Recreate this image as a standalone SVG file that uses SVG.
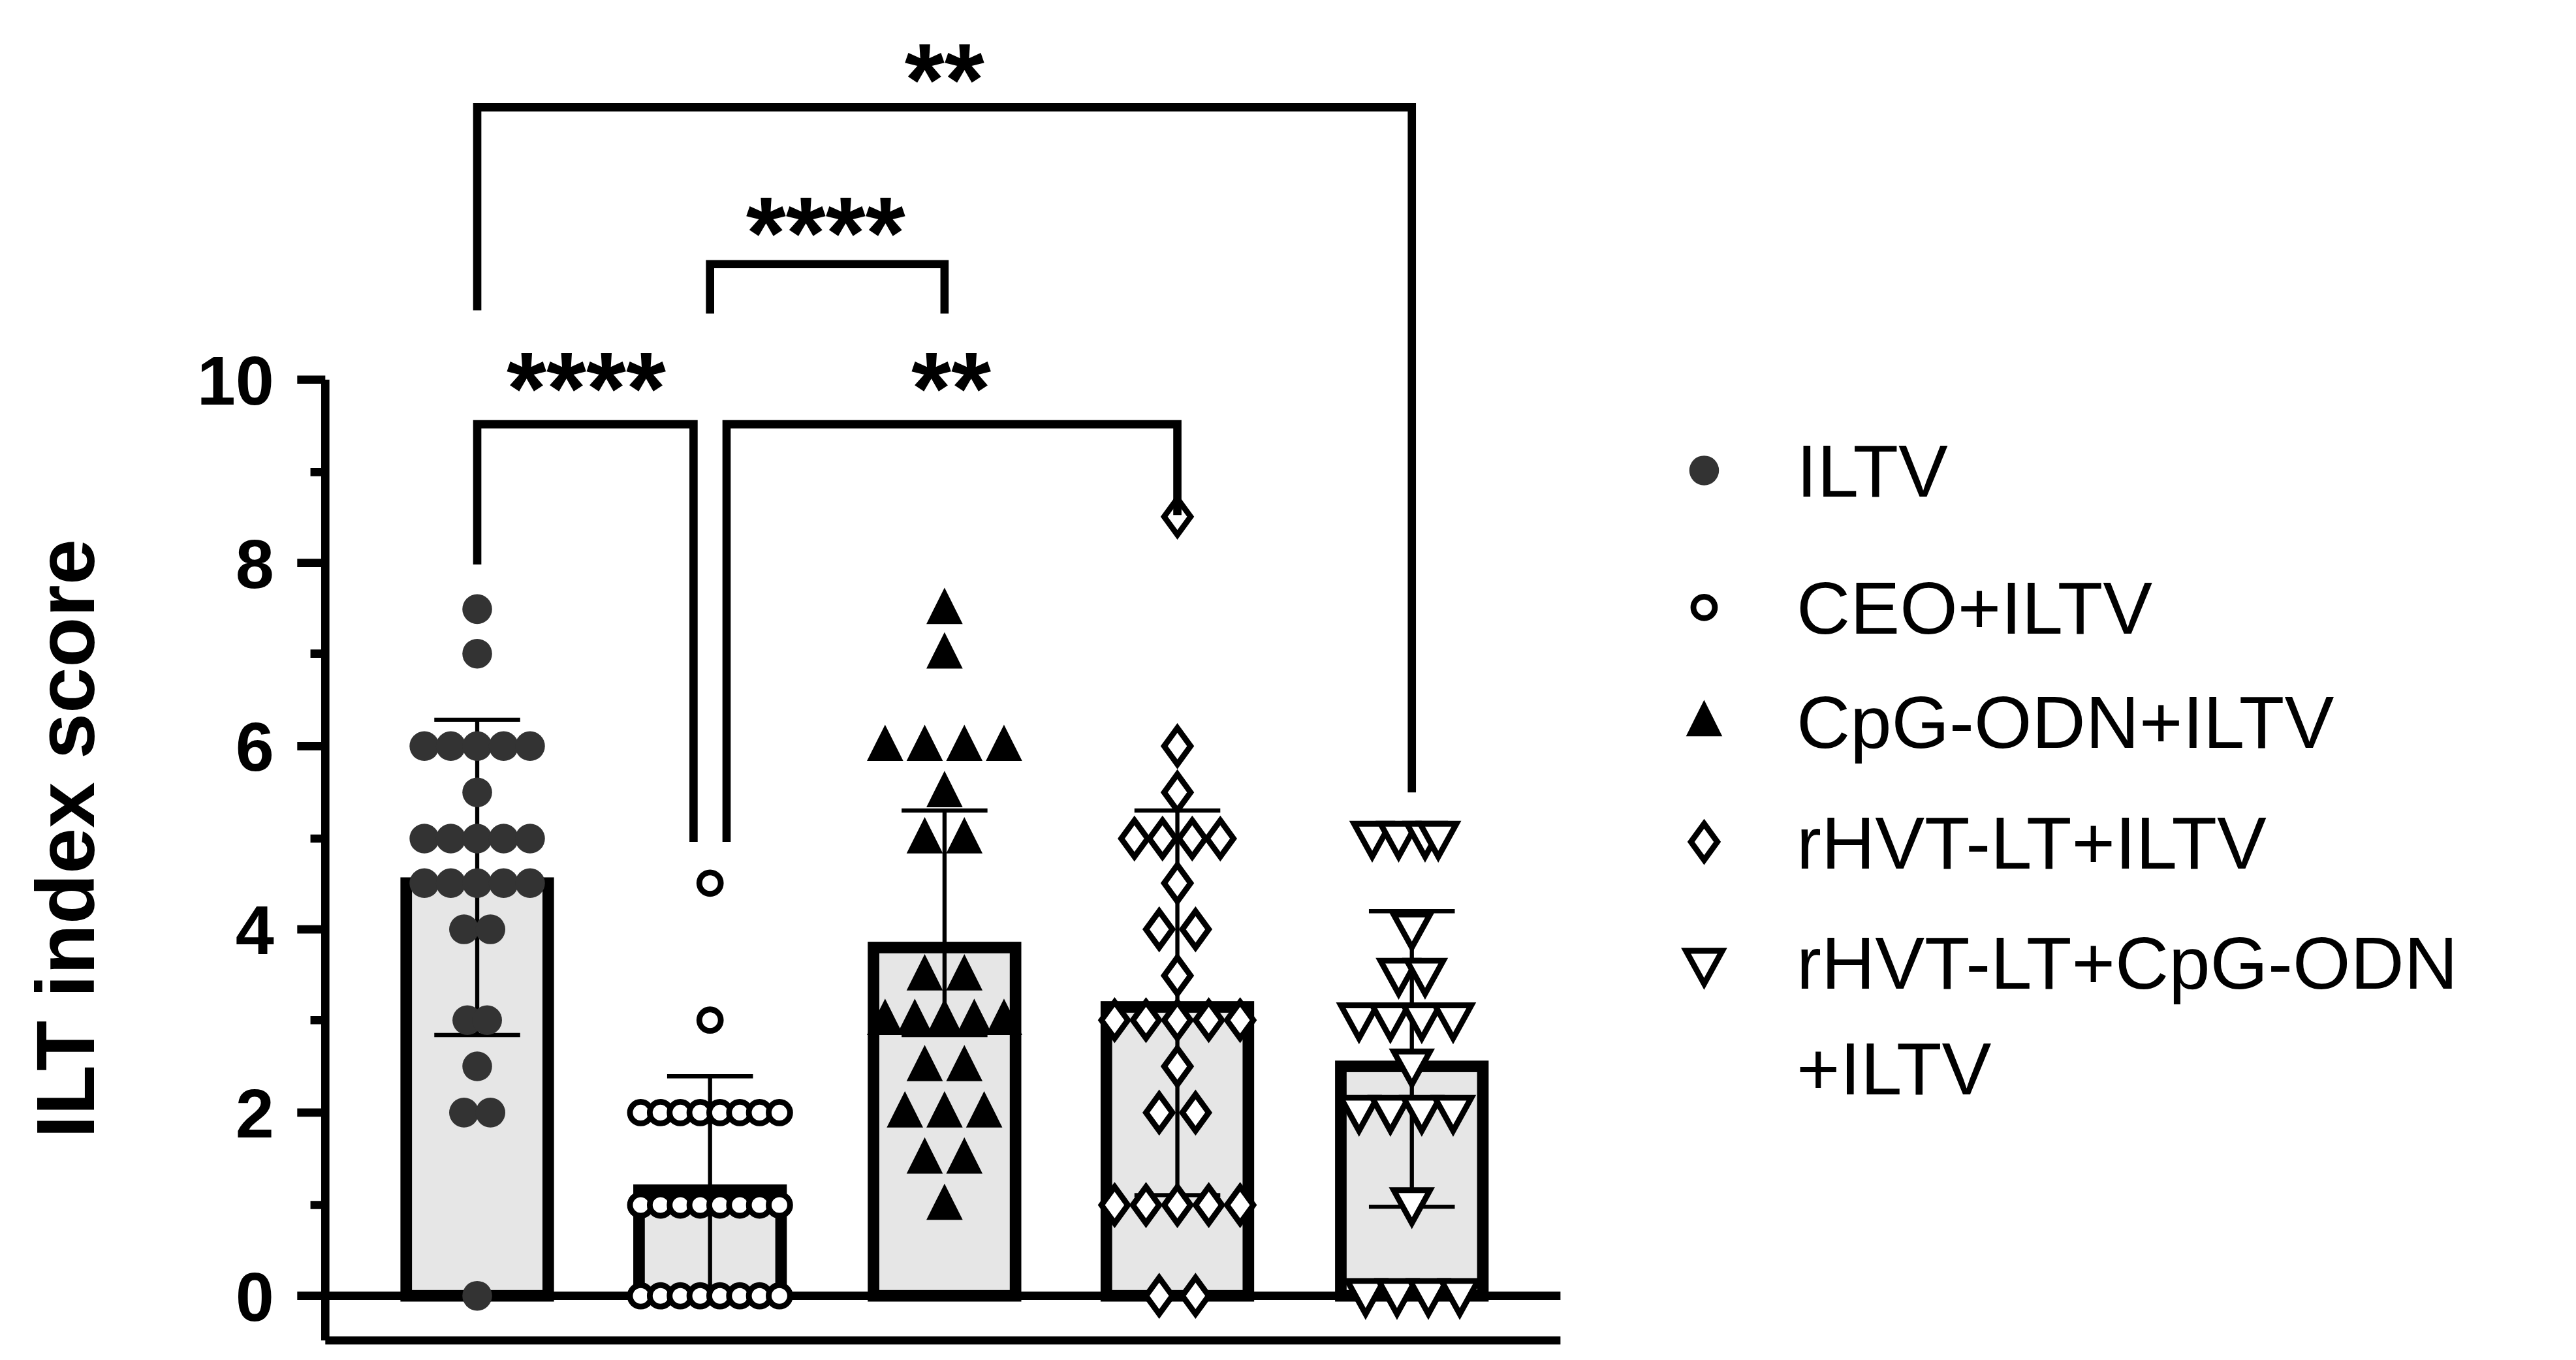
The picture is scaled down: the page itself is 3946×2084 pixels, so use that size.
<svg xmlns="http://www.w3.org/2000/svg" xmlns:xlink="http://www.w3.org/1999/xlink" width="3946" height="2084" viewBox="0 0 3946 2084">
<style>
.ax{stroke:#000;stroke-width:5;fill:none}
.br{stroke:#000;stroke-width:5;fill:none}
.bar{fill:#e6e6e6;stroke:#000;stroke-width:7}
.eb{stroke:#000;stroke-width:2.5;fill:none}
.t{font-family:"Liberation Sans",Arial,sans-serif;font-weight:bold;fill:#000}
.lg{font-family:"Liberation Sans",Arial,sans-serif;font-size:45px;fill:#000}
</style>
<defs>
<circle id="fc" r="9" fill="#333"/>
<circle id="oc" r="6.5" fill="#fff" stroke="#000" stroke-width="3.5"/>
<path id="tu" d="M0,-13 L11,9 L-11,9 Z" fill="#000"/>
<path id="dm" d="M0,-11 L8,0 L0,11 L-8,0 Z" fill="#fff" stroke="#000" stroke-width="3.5"/>
<path id="td" d="M-11,-9 L11,-9 L0,11 Z" fill="#fff" stroke="#000" stroke-width="3.5"/>
</defs>
<rect width="3946" height="2084" fill="#fff"/>
<g transform="scale(2.5295)">
<g id="axes">
<path class="ax" d="M197,230 V812 M197,812 H945 M180,785 H945"/>
<path class="ax" d="M180,230 H197 M180,341 H197 M180,452 H197 M180,563 H197 M180,674 H197 M188,286 H197 M188,396 H197 M188,508 H197 M188,618 H197 M188,730 H197"/>
<g class="t" font-size="42" text-anchor="end">
<text x="166" y="245">10</text><text x="166" y="356">8</text><text x="166" y="467">6</text><text x="166" y="578">4</text><text x="166" y="689">2</text><text x="166" y="800">0</text>
</g>
<text class="t" font-size="50" text-anchor="middle" transform="translate(57,508) rotate(-90)">ILT index score</text>
</g>
<g id="bars">
<rect class="bar" x="246" y="535" width="86" height="250"/>
<rect class="bar" x="387" y="721" width="86" height="64"/>
<rect class="bar" x="529" y="574" width="86" height="211"/>
<rect class="bar" x="670" y="610" width="86" height="175"/>
<rect class="bar" x="812" y="646" width="86" height="139"/>
</g>
<g id="errorbars" class="eb">
<path d="M289,627 V436 M263,436 H315 M263,627 H315"/>
<path d="M430,785 V652 M404,652 H456"/>
<path d="M572,627 V491 M546,491 H598 M546,627 H598"/>
<path d="M713,724 V491 M687,491 H739 M687,724 H739"/>
<path d="M855,731 V552 M829,552 H881 M829,731 H881"/>
</g>
<g id="iltv">
<use href="#fc" x="289" y="369"/><use href="#fc" x="289" y="396"/>
<use href="#fc" x="257" y="452"/><use href="#fc" x="273" y="452"/><use href="#fc" x="289" y="452"/><use href="#fc" x="305" y="452"/><use href="#fc" x="321" y="452"/>
<use href="#fc" x="289" y="480"/>
<use href="#fc" x="257" y="508"/><use href="#fc" x="273" y="508"/><use href="#fc" x="289" y="508"/><use href="#fc" x="305" y="508"/><use href="#fc" x="321" y="508"/>
<use href="#fc" x="257" y="535"/><use href="#fc" x="273" y="535"/><use href="#fc" x="289" y="535"/><use href="#fc" x="305" y="535"/><use href="#fc" x="321" y="535"/>
<use href="#fc" x="281" y="563"/><use href="#fc" x="297" y="563"/>
<use href="#fc" x="283" y="618"/><use href="#fc" x="295" y="618"/>
<use href="#fc" x="289" y="646"/>
<use href="#fc" x="281" y="674"/><use href="#fc" x="297" y="674"/>
<use href="#fc" x="289" y="785"/>
</g>
<g id="ceo">
<use href="#oc" x="430" y="535"/><use href="#oc" x="430" y="618"/>
<use href="#oc" x="388" y="674"/><use href="#oc" x="400" y="674"/><use href="#oc" x="412" y="674"/><use href="#oc" x="424" y="674"/><use href="#oc" x="436" y="674"/><use href="#oc" x="448" y="674"/><use href="#oc" x="460" y="674"/><use href="#oc" x="472" y="674"/>
<use href="#oc" x="388" y="730"/><use href="#oc" x="400" y="730"/><use href="#oc" x="412" y="730"/><use href="#oc" x="424" y="730"/><use href="#oc" x="436" y="730"/><use href="#oc" x="448" y="730"/><use href="#oc" x="460" y="730"/><use href="#oc" x="472" y="730"/>
<use href="#oc" x="388" y="785"/><use href="#oc" x="400" y="785"/><use href="#oc" x="412" y="785"/><use href="#oc" x="424" y="785"/><use href="#oc" x="436" y="785"/><use href="#oc" x="448" y="785"/><use href="#oc" x="460" y="785"/><use href="#oc" x="472" y="785"/>
</g>
<g id="cpg">
<use href="#tu" x="572" y="369"/><use href="#tu" x="572" y="396"/>
<use href="#tu" x="536" y="452"/><use href="#tu" x="560" y="452"/><use href="#tu" x="584" y="452"/><use href="#tu" x="608" y="452"/>
<use href="#tu" x="572" y="480"/>
<use href="#tu" x="560" y="508"/><use href="#tu" x="584" y="508"/>
<use href="#tu" x="560" y="591"/><use href="#tu" x="584" y="591"/>
<use href="#tu" x="536" y="618"/><use href="#tu" x="554" y="618"/><use href="#tu" x="572" y="618"/><use href="#tu" x="590" y="618"/><use href="#tu" x="608" y="618"/>
<use href="#tu" x="560" y="646"/><use href="#tu" x="584" y="646"/>
<use href="#tu" x="548" y="674"/><use href="#tu" x="572" y="674"/><use href="#tu" x="596" y="674"/>
<use href="#tu" x="560" y="702"/><use href="#tu" x="584" y="702"/>
<use href="#tu" x="572" y="730"/>
</g>
<g id="rhvt">
<use href="#dm" x="713" y="313"/><use href="#dm" x="713" y="452"/><use href="#dm" x="713" y="480"/>
<use href="#dm" x="687" y="508"/><use href="#dm" x="704" y="508"/><use href="#dm" x="722" y="508"/><use href="#dm" x="739" y="508"/>
<use href="#dm" x="713" y="535"/>
<use href="#dm" x="702" y="563"/><use href="#dm" x="724" y="563"/>
<use href="#dm" x="713" y="591"/>
<use href="#dm" x="675" y="618"/><use href="#dm" x="694" y="618"/><use href="#dm" x="713" y="618"/><use href="#dm" x="732" y="618"/><use href="#dm" x="751" y="618"/>
<use href="#dm" x="713" y="646"/>
<use href="#dm" x="702" y="674"/><use href="#dm" x="724" y="674"/>
<use href="#dm" x="675" y="730"/><use href="#dm" x="694" y="730"/><use href="#dm" x="713" y="730"/><use href="#dm" x="732" y="730"/><use href="#dm" x="751" y="730"/>
<use href="#dm" x="702" y="785"/><use href="#dm" x="724" y="785"/>
</g>
<g id="combo">
<use href="#td" x="831" y="508"/><use href="#td" x="847" y="508"/><use href="#td" x="863" y="508"/><use href="#td" x="871" y="508"/>
<use href="#td" x="855" y="563"/><use href="#td" x="847" y="591"/><use href="#td" x="863" y="591"/>
<use href="#td" x="823" y="618"/><use href="#td" x="842" y="618"/><use href="#td" x="861" y="618"/><use href="#td" x="880" y="618"/>
<use href="#td" x="855" y="646"/>
<use href="#td" x="823" y="674"/><use href="#td" x="842" y="674"/><use href="#td" x="861" y="674"/><use href="#td" x="880" y="674"/>
<use href="#td" x="855" y="730"/>
<use href="#td" x="827" y="785"/><use href="#td" x="846" y="785"/><use href="#td" x="865" y="785"/><use href="#td" x="884" y="785"/>
</g>
<g id="connectors" class="br">
<path d="M289,188 V65 H855 V480"/>
<path d="M430,190 V160 H572 V190"/>
<path d="M289,342 V257 H420 V510"/>
<path d="M440,510 V257 H713 V312"/>
</g>
<g class="t" font-size="62" text-anchor="middle">
<text x="572" y="70">**</text>
<text x="500" y="163">****</text>
<text x="355" y="257">****</text>
<text x="576" y="257">**</text>
</g>
<g id="legend">
<use href="#fc" x="1032" y="285"/>
<use href="#oc" x="1032" y="368"/>
<use href="#tu" x="1032" y="437"/>
<use href="#dm" x="1032" y="510"/>
<use href="#td" x="1032" y="585"/>
<text class="lg" x="1088" y="301">ILTV</text>
<text class="lg" x="1088" y="384">CEO+ILTV</text>
<text class="lg" x="1088" y="453">CpG-ODN+ILTV</text>
<text class="lg" x="1088" y="526">rHVT-LT+ILTV</text>
<text class="lg" x="1088" y="599">rHVT-LT+CpG-ODN</text>
<text class="lg" x="1088" y="663">+ILTV</text>
</g>
</g>
</svg>
